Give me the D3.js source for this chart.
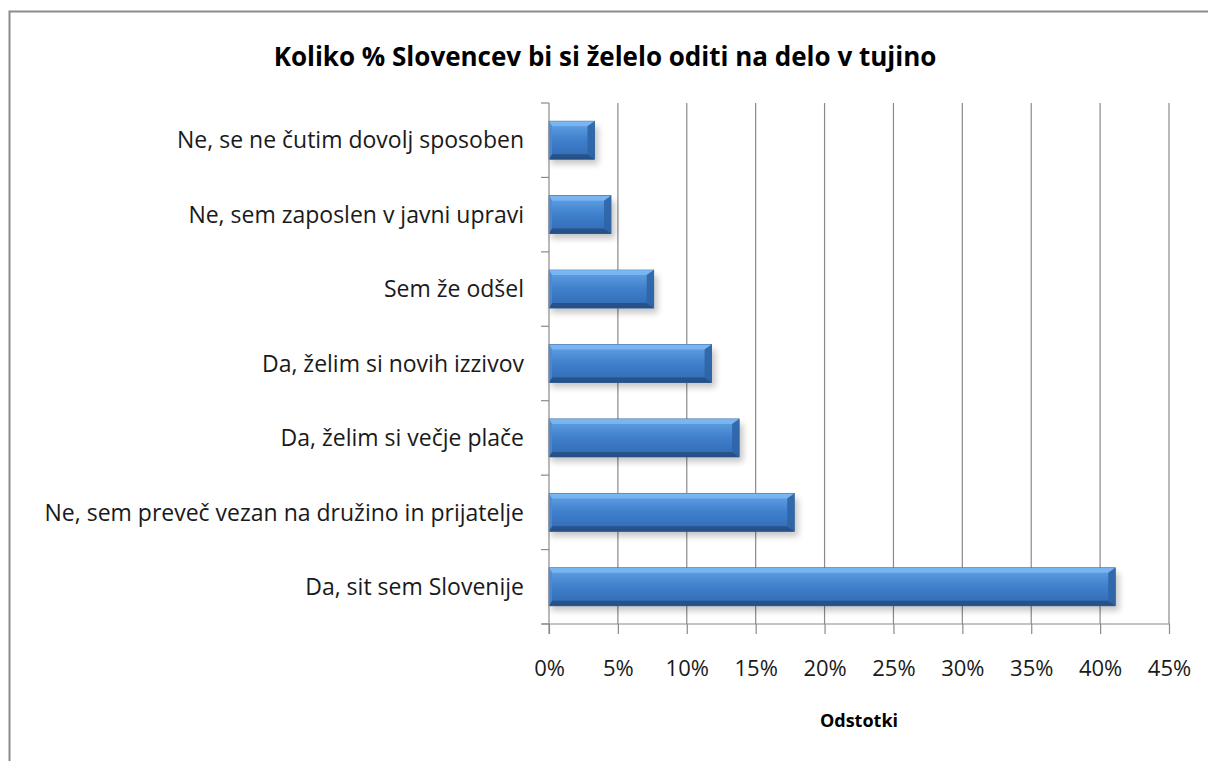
<!DOCTYPE html>
<html><head><meta charset="utf-8">
<script src="https://cdn.jsdelivr.net/npm/d3@7"></script>
<style>html,body{margin:0;padding:0;background:#fff;overflow:hidden;}svg{display:block;}</style>
</head><body>
<svg id="c" width="1208" height="761"></svg>
<script>
const categories = [
  "Ne, se ne čutim dovolj sposoben",
  "Ne, sem zaposlen v javni upravi",
  "Sem že odšel",
  "Da, želim si novih izzivov",
  "Da, želim si večje plače",
  "Ne, sem preveč vezan na družino in prijatelje",
  "Da, sit sem Slovenije"
];
const values = [3.3, 4.5, 7.6, 11.8, 13.8, 17.8, 41.1];
const tickValues = [0, 5, 10, 15, 20, 25, 30, 35, 40, 45];
const title = "Koliko % Slovencev bi si želelo oditi na delo v tujino";
const axisTitle = "Odstotki";

const font = "'Open Sans', Lato, sans-serif";
const svg = d3.select("#c");
const pL = 549, pR = 1169, pT = 103, pB = 624;

const x = d3.scaleLinear().domain([0, 45]).range([pL, pR]);
const y = d3.scaleBand().domain(categories).range([pT, pB]).paddingInner(0.49).paddingOuter(0.245);

// outer border
svg.append("rect").attr("x", 9.5).attr("y", 11.5).attr("width", 1230).attr("height", 800)
  .attr("fill", "#fff").attr("stroke", "#8c8c8c").attr("stroke-width", 2);

const defs = svg.append("defs");
const g1 = defs.append("linearGradient").attr("id", "barg").attr("x1", 0).attr("y1", 0).attr("x2", 0).attr("y2", 1);
[[0, "#72b0ef"], [0.12, "#5a9be0"], [0.5, "#3f7fcb"], [0.85, "#3670ba"], [1, "#27568f"]].forEach(s =>
  g1.append("stop").attr("offset", s[0]).attr("stop-color", s[1]));
const f = defs.append("filter").attr("id", "sh").attr("x", "-10%").attr("y", "-30%").attr("width", "130%").attr("height", "180%");
f.append("feGaussianBlur").attr("stdDeviation", 3);

// gridlines
svg.append("g").selectAll("line").data(tickValues.slice(1)).join("line")
  .attr("x1", d => x(d)).attr("x2", d => x(d)).attr("y1", pT).attr("y2", pB)
  .attr("stroke", "#8a8a8a").attr("stroke-width", 1.2);

// bars
const bars = svg.append("g").selectAll("g").data(categories).join("g");
bars.append("rect")
  .attr("x", d => x(0) + 2).attr("y", d => y(d) + 5)
  .attr("width", (d, i) => x(values[i]) - x(0) + 2).attr("height", y.bandwidth())
  .attr("fill", "#000").attr("opacity", 0.22).attr("filter", "url(#sh)");
bars.append("rect")
  .attr("x", x(0)).attr("y", d => y(d))
  .attr("width", (d, i) => x(values[i]) - x(0)).attr("height", y.bandwidth())
  .attr("fill", "url(#barg)").attr("stroke", "#2a5a94").attr("stroke-width", 0.8);
// bevels
const bw = 7, bh = 5;
bars.each(function (d, i) {
  const g = d3.select(this);
  const x0 = x(0), x1 = x(values[i]), y0 = y(d), y1 = y(d) + y.bandwidth();
  g.append("polygon").attr("points", [[x0, y0], [x1, y0], [x1 - bw, y0 + bh], [x0 + 3, y0 + bh]].join(" "))
    .attr("fill", "#7cb8f2").attr("opacity", 0.85);
  g.append("polygon").attr("points", [[x0, y1], [x1, y1], [x1 - bw, y1 - bh], [x0 + 3, y1 - bh]].join(" "))
    .attr("fill", "#264f85").attr("opacity", 0.85);
  g.append("polygon").attr("points", [[x1, y0], [x1, y1], [x1 - bw, y1 - bh], [x1 - bw, y0 + bh]].join(" "))
    .attr("fill", "#2f65a6").attr("opacity", 0.9);
  g.append("polygon").attr("points", [[x0, y0], [x0, y1], [x0 + 3, y1 - bh], [x0 + 3, y0 + bh]].join(" "))
    .attr("fill", "#4d8ad3").attr("opacity", 0.8);
});

// x axis
const xAxis = d3.axisBottom(x).tickValues(tickValues).tickSize(10).tickFormat(d => d + "%");
const xg = svg.append("g").attr("transform", `translate(0,${pB})`).call(xAxis);
xg.select(".domain").remove();
xg.append("line").attr("x1", pL - 7).attr("x2", pR).attr("y1", 0).attr("y2", 0).attr("stroke", "#8a8a8a").attr("stroke-width", 1.2);
xg.selectAll(".tick line").attr("stroke", "#8a8a8a").attr("stroke-width", 1.2);
xg.selectAll(".tick text").attr("font-family", font).attr("font-size", 22).attr("fill", "#1a1a1a")
  .attr("y", 44).attr("dy", "0.36em");

// y axis
const yAxis = d3.axisLeft(y).tickSize(0).tickPadding(25);
const yg = svg.append("g").attr("transform", `translate(${pL},0)`).call(yAxis);
yg.select(".domain").remove();
yg.append("line").attr("x1", 0).attr("x2", 0).attr("y1", pT).attr("y2", pB + 10).attr("stroke", "#8a8a8a").attr("stroke-width", 1.2);
yg.selectAll(".sep").data(d3.range(categories.length + 1)).join("line")
  .attr("x1", -8).attr("x2", 0)
  .attr("y1", i => pT + i * (pB - pT) / categories.length)
  .attr("y2", i => pT + i * (pB - pT) / categories.length)
  .attr("stroke", "#8a8a8a").attr("stroke-width", 1.2);
yg.selectAll(".tick text").attr("font-family", font).attr("font-size", 23).attr("fill", "#1a1a1a").attr("dy", "0.36em");

// titles
svg.append("text").attr("x", 605).attr("y", 66).attr("text-anchor", "middle")
  .attr("font-family", font).attr("font-weight", "bold").attr("font-size", 26).text(title);
svg.append("text").attr("x", 859).attr("y", 727).attr("text-anchor", "middle")
  .attr("font-family", font).attr("font-weight", "bold").attr("font-size", 18).text(axisTitle);
</script>
</body></html>
